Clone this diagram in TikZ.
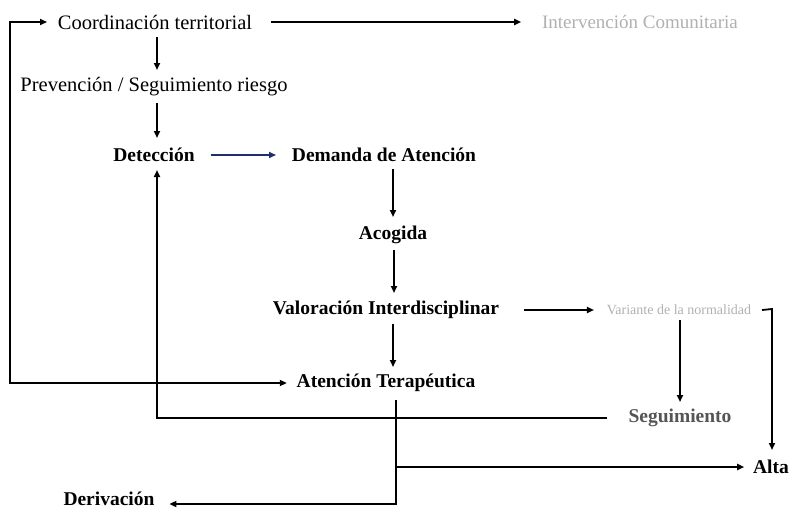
\documentclass[tikz,border=0pt]{standalone}
\usepackage{fontspec}
\setmainfont{Liberation Serif}
\usetikzlibrary{arrows.meta}
\definecolor{navyline}{HTML}{1F2F6B}
\definecolor{lightgray}{HTML}{B0B0B0}
\definecolor{midgray}{HTML}{555555}
\begin{document}
\begin{tikzpicture}[x=1pt,y=-1pt,
  line width=1.8pt,
  >={Triangle[length=7pt,width=6pt]},
  reg/.style={inner sep=0pt, font=\fontsize{20.5}{22}\selectfont},
  bld/.style={inner sep=0pt, font=\fontsize{19.5}{21}\selectfont\bfseries},
  small/.style={inner sep=0pt, font=\fontsize{14}{16}\selectfont, text=lightgray}]
\useasboundingbox (0,0) rectangle (790,509);
% nodes
\node[reg] (coord) at (155,22) {Coordinación territorial};
\node[reg, text=lightgray, font=\fontsize{19}{21}\selectfont] (inter) at (640,22) {Intervención Comunitaria};
\node[reg] (prev) at (154,87) {Prevención / Seguimiento riesgo};
\node[bld] (det) at (154,155) {Detección};
\node[bld] (dem) at (384,155) {Demanda de Atención};
\node[bld] (acog) at (393,235) {Acogida};
\node[bld] (val) at (386,310) {Valoración Interdisciplinar};
\node[small] (var) at (679,310) {Variante de la normalidad};
\node[bld] (aten) at (386,383) {Atención Terapéutica};
\node[bld, text=midgray] (seg) at (680,418) {Seguimiento};
\node[bld] (alta) at (771,467) {Alta};
\node[bld] (deriv) at (109,499) {Derivación};
% corner coordinates
\coordinate (lt) at (10,22);
\coordinate (lb) at (10,383);
\coordinate (rc) at (772,309);
\coordinate (sl) at (157,418);
\coordinate (bc) at (396,504);
\coordinate (bj) at (396,467);
% connectors
\draw[<->] ([xshift=-10]coord.west) -- (lt) -- (lb) -- ([xshift=-9]aten.west);
\draw[->] ([xshift=18]coord.east) -- ([xshift=-20]inter.west);
\draw[->] ([xshift=2,yshift=-15]coord.center) -- ([xshift=3,yshift=17]prev.center);
\draw[->] ([xshift=3,yshift=-16]prev.center) -- ([xshift=3,yshift=17]det.center);
\draw[->, navyline] ([xshift=15]det.east) -- ([xshift=-15]dem.west);
\draw[->] ([xshift=9,yshift=-14]dem.center) -- ([yshift=18]acog.center);
\draw[->] ([xshift=1,yshift=-15]acog.center) -- ([xshift=8,yshift=17]val.center);
\draw[->] ([xshift=7,yshift=-14]val.center) -- ([xshift=7,yshift=16]aten.center);
\draw[->] ([xshift=24]val.east) -- ([xshift=-12]var.west);
\draw[->] ([xshift=10]var.east) -- (rc) -- ([xshift=1,yshift=17]alta.center);
\draw[->] ([xshift=1,yshift=-10]var.center) -- ([yshift=16]seg.center);
\draw[->] ([xshift=-21]seg.west) -- (sl) -- ([xshift=3,yshift=-15]det.center);
\draw[->] ([xshift=10,yshift=-17]aten.center) -- (bc) -- ([xshift=14,yshift=-5]deriv.east);
\draw[->] (bj) -- ([xshift=-8]alta.west);
\end{tikzpicture}
\end{document}
